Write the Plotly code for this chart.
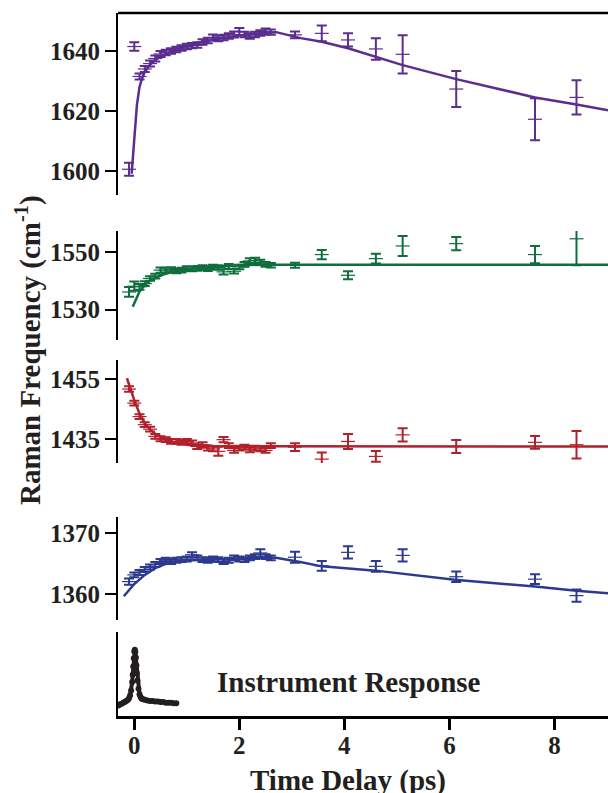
import plotly.graph_objects as go

# ---------------- data ----------------
t_dense = [-0.1, 0.0, 0.1, 0.2, 0.3, 0.4, 0.5, 0.6, 0.7, 0.8, 0.9, 1.0, 1.1, 1.2,
           1.3, 1.4, 1.5, 1.6, 1.7, 1.8, 1.9, 2.0, 2.1, 2.2, 2.3, 2.4, 2.5, 2.6]
t_sparse = [3.06, 3.57, 4.07, 4.6, 5.11, 6.13, 7.63, 8.42]

# 1640 band (purple)
v1640_dense = [1600.5, 1641.5, 1631.5, 1634.0, 1635.8, 1637.5, 1639.0, 1639.5, 1640.0,
               1640.5, 1641.0, 1641.5, 1641.8, 1642.0, 1643.0, 1643.5, 1644.5, 1644.2,
               1644.5, 1645.0, 1645.5, 1646.5, 1645.5, 1645.0, 1645.5, 1646.0, 1646.5, 1646.3]
e1640_dense = [2.2, 1.4, 1.0, 1.0, 1.0, 1.0, 1.0, 0.9, 0.9, 0.9, 0.9, 0.9, 0.9, 0.9,
               0.9, 0.9, 1.0, 0.9, 0.9, 0.9, 1.0, 1.2, 0.9, 0.9, 0.9, 0.9, 1.0, 0.9]
v1640_sparse = [1645.4, 1645.9, 1643.7, 1640.7, 1638.9, 1627.3, 1617.2, 1624.5]
e1640_sparse = [1.1, 2.6, 2.2, 3.6, 6.4, 6.0, 7.0, 5.7]
fit1640_t = [-0.05, 0.0, 0.05, 0.1, 0.15, 0.2, 0.3, 0.4, 0.6, 0.8, 1.0, 1.5, 2.0, 2.5,
             2.7, 3.17, 3.57, 4.07, 4.6, 5.11, 6.13, 7.63, 8.42, 9.02]
fit1640_v = [1599.0, 1612.0, 1622.0, 1628.0, 1631.0, 1633.0, 1635.5, 1637.0, 1639.0,
             1640.5, 1641.7, 1643.8, 1645.2, 1646.1, 1646.3, 1644.3, 1643.1, 1640.9,
             1638.1, 1635.3, 1630.6, 1624.5, 1622.1, 1620.2]

# 1545 band (green)
v1545_dense = [1536.1, 1538.1, 1537.9, 1539.0, 1540.8, 1541.6, 1543.7, 1543.7, 1543.9,
               1543.4, 1543.7, 1544.2, 1544.1, 1544.3, 1544.6, 1544.2, 1544.8, 1544.6,
               1543.1, 1545.0, 1543.3, 1544.8, 1545.7, 1546.9, 1547.1, 1546.5, 1545.7, 1545.4]
e1545_dense = [1.7, 1.6, 1.0, 0.8, 0.8, 0.8, 0.9, 0.8, 0.8, 0.8, 0.8, 0.8, 0.8, 0.8,
               0.8, 0.8, 0.8, 0.8, 0.9, 0.8, 0.8, 0.8, 0.8, 0.9, 0.9, 0.8, 0.8, 0.8]
v1545_sparse = [1545.4, 1549.1, 1541.9, 1547.7, 1552.1, 1552.9, 1549.1, 1554.6]
e1545_sparse = [0.9, 1.6, 1.4, 1.7, 3.5, 2.3, 3.0, 9.2]
fit1545_t = [-0.03, 0.05, 0.1, 0.2, 0.3, 0.5, 0.75, 1.0, 1.5, 2.0, 2.5, 9.02]
fit1545_v = [1531.0, 1534.5, 1536.3, 1538.5, 1540.0, 1541.9, 1543.2, 1544.0, 1544.9,
             1545.4, 1545.6, 1545.6]

# 1435 band (red)
v1435_dense = [1451.7, 1447.0, 1442.5, 1439.8, 1438.3, 1435.9, 1435.1, 1434.8, 1434.2,
               1434.2, 1433.9, 1434.2, 1433.7, 1432.5, 1433.1, 1432.0, 1431.7, 1430.9,
               1434.8, 1432.8, 1431.2, 1432.0, 1432.3, 1431.4, 1432.0, 1431.7, 1431.2, 1432.8]
e1435_dense = [0.9, 0.8, 0.8, 0.8, 0.8, 0.8, 0.8, 0.8, 0.8, 0.8, 0.8, 0.8, 0.8, 0.8,
               0.8, 0.8, 0.8, 1.5, 0.9, 0.8, 0.8, 0.8, 0.8, 0.8, 0.8, 0.8, 0.8, 0.8]
v1435_sparse = [1432.3, 1428.3, 1434.2, 1429.2, 1436.4, 1432.5, 1433.9, 1433.1]
e1435_sparse = [1.3, 2.2, 2.5, 1.8, 2.2, 2.2, 2.1, 4.6]
fit1435_t = [-0.14, -0.05, 0.0, 0.1, 0.2, 0.3, 0.4, 0.6, 0.8, 1.0, 1.5, 2.0, 9.02]
fit1435_v = [1455.3, 1450.5, 1448.0, 1443.5, 1440.3, 1438.2, 1436.7, 1434.8, 1433.8,
             1433.2, 1432.7, 1432.6, 1432.5]

# 1365 band (blue)
v1365_dense = [1362.0, 1363.1, 1363.5, 1364.0, 1364.4, 1364.8, 1365.3, 1365.5, 1365.3,
               1365.5, 1365.6, 1365.7, 1366.4, 1365.9, 1365.6, 1365.5, 1365.7, 1365.6,
               1365.3, 1365.5, 1365.9, 1365.7, 1365.6, 1365.9, 1366.1, 1366.7, 1366.1, 1365.9]
e1365_dense = [0.5, 0.4, 0.4, 0.4, 0.4, 0.4, 0.4, 0.4, 0.4, 0.4, 0.4, 0.4, 0.4, 0.4,
               0.4, 0.4, 0.4, 0.4, 0.4, 0.4, 0.4, 0.4, 0.4, 0.4, 0.4, 0.6, 0.4, 0.4]
v1365_sparse = [1366.0, 1364.6, 1366.8, 1364.5, 1366.3, 1362.8, 1362.4, 1359.7]
e1365_sparse = [0.9, 0.8, 1.0, 0.9, 1.0, 0.85, 0.8, 1.0]
fit1365_t = [-0.2, 0.0, 0.2, 0.4, 0.6, 0.8, 1.0, 1.5, 2.0, 2.5, 2.7, 3.16, 3.57, 4.6,
             6.1, 7.63, 8.42, 9.02]
fit1365_v = [1359.6, 1361.6, 1363.1, 1364.2, 1364.9, 1365.3, 1365.5, 1365.7, 1365.8,
             1365.9, 1365.9, 1365.2, 1364.5, 1363.8, 1362.3, 1361.2, 1360.5, 1360.1]

# instrument response (normalised)
irf_t = [-0.30, -0.27, -0.24, -0.21, -0.18, -0.15, -0.12, -0.10, -0.08, -0.06, -0.04,
         -0.03, -0.02, -0.01, 0.00, 0.01, 0.02, 0.03, 0.04, 0.05, 0.06, 0.08, 0.10,
         0.12, 0.14, 0.17, 0.20, 0.25, 0.30, 0.35, 0.40, 0.45, 0.50, 0.55, 0.60, 0.65,
         0.70, 0.75, 0.80]
irf_v = [0.00, 0.02, 0.03, 0.05, 0.06, 0.08, 0.10, 0.13, 0.18, 0.27, 0.42, 0.55, 0.70,
         0.85, 0.97, 1.00, 0.96, 0.86, 0.72, 0.58, 0.45, 0.30, 0.20, 0.15, 0.12, 0.11,
         0.10, 0.09, 0.08, 0.08, 0.07, 0.07, 0.06, 0.06, 0.05, 0.05, 0.05, 0.04, 0.04]

x_ticks = [0, 2, 4, 6, 8]

# ---------------- layout helpers ----------------
W, H = 608, 793
ML, MB = 118, 77
PH = H - MB


def dom(top_px, bot_px):
    return [(PH - bot_px) / PH, (PH - top_px) / PH]


FONT = "Liberation Serif"
TXT = "#231f20"
tickfont = dict(family=FONT, size=25, color=TXT, weight="bold")

panels = [
    ("y", (13, 195), [1591.9, 1652.7], [1600, 1620, 1640], "#5b2d8e",
     v1640_dense, e1640_dense, v1640_sparse, e1640_sparse, fit1640_t, fit1640_v),
    ("y2", (231, 340), [1519.4, 1557.3], [1530, 1550], "#0f6e3d",
     v1545_dense, e1545_dense, v1545_sparse, e1545_sparse, fit1545_t, fit1545_v),
    ("y3", (360, 463), [1427.0, 1461.4], [1435, 1455], "#b2202b",
     v1435_dense, e1435_dense, v1435_sparse, e1435_sparse, fit1435_t, fit1435_v),
    ("y4", (517, 620), [1355.7, 1372.6], [1360, 1370], "#2c3a8e",
     v1365_dense, e1365_dense, v1365_sparse, e1365_sparse, fit1365_t, fit1365_v),
]

fig = go.Figure()

for (ax, dpx, rng, tv, col, vd, ed, vs, es, ft, fv) in panels:
    fig.add_trace(go.Scatter(x=ft, y=fv, xaxis="x", yaxis=ax, mode="lines",
                             line=dict(color=col, width=2.5), showlegend=False))
    fig.add_trace(go.Scatter(
        x=t_dense + t_sparse, y=vd + vs, xaxis="x", yaxis=ax, mode="markers",
        marker=dict(symbol="line-ew", size=10, line=dict(color=col, width=1.2)),
        error_y=dict(type="data", array=ed + es, visible=True, color=col,
                     thickness=2, width=5),
        showlegend=False))

fig.add_trace(go.Scatter(x=irf_t, y=irf_v, xaxis="x", yaxis="y5", mode="lines+markers",
                         line=dict(color=TXT, width=4),
                         marker=dict(color=TXT, size=6), showlegend=False))

yaxis_common = dict(showgrid=False, zeroline=False, showline=True, linecolor="black",
                    linewidth=2, ticks="outside", ticklen=11, tickwidth=2,
                    tickcolor="black", tickfont=tickfont, anchor="x")

layout = dict(
    width=W, height=H,
    margin=dict(l=ML, r=0, t=0, b=MB),
    paper_bgcolor="white", plot_bgcolor="white",
    showlegend=False,
    xaxis=dict(domain=[0, 1], range=[-0.31, 9.02], anchor="y5", showgrid=False,
               zeroline=False, showline=True, linecolor="black", linewidth=2.5,
               ticks="outside", ticklen=11, tickwidth=2.5, tickcolor="black",
               tickvals=x_ticks, ticktext=[str(v) for v in x_ticks], tickfont=tickfont,
               ticklabelstandoff=-6),
)

for i, (ax, dpx, rng, tv, *_rest) in enumerate(panels):
    key = "yaxis" if ax == "y" else "yaxis" + ax[1:]
    layout[key] = dict(yaxis_common, domain=dom(*dpx), range=rng, tickvals=tv,
                       ticktext=[str(v) for v in tv])

layout["yaxis5"] = dict(domain=dom(632, PH), range=[-0.19, 1.32], anchor="x",
                        showgrid=False, zeroline=False, showline=True, linecolor="black",
                        linewidth=2, ticks="", showticklabels=False)

fig.update_layout(**layout)

top_y = dom(13, 195)[1]
fig.add_shape(type="line", xref="paper", yref="paper", x0=0, x1=1, y0=top_y, y1=top_y,
              line=dict(color="black", width=2.5))

bigfont = dict(family=FONT, size=29, color=TXT, weight="bold")
fig.add_annotation(text="Instrument Response", xref="x", yref="y5", x=4.09, y=0.42,
                   showarrow=False, font=bigfont, xanchor="center", yanchor="middle")
fig.add_annotation(text="Time Delay (ps)", xref="paper", yref="paper",
                   x=(348 - ML) / (W - ML), y=(PH - 781) / PH,
                   showarrow=False, font=bigfont, xanchor="center", yanchor="middle")
fig.add_annotation(text="Raman Frequency (cm<sup>-1</sup>)", xref="paper", yref="paper",
                   x=(28 - ML) / (W - ML), y=(PH - 350) / PH, textangle=-90,
                   showarrow=False, font=bigfont, xanchor="center", yanchor="middle")

fig.write_html("out.html")
